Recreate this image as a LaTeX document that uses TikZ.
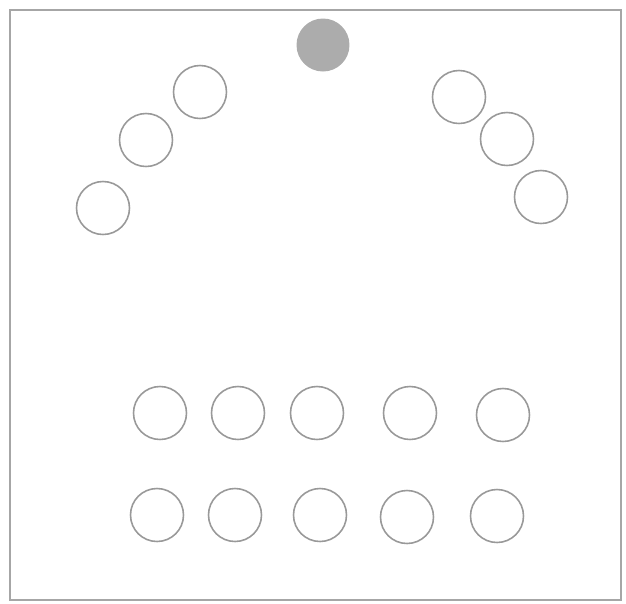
\documentclass[tikz,border=0pt]{standalone}
\begin{document}
\begin{tikzpicture}[x=0.02cm,y=-0.02cm,
    ring/.style={circle,draw=gray!80,line width=0.9pt,minimum size=1.06cm,inner sep=0pt},
    sun/.style={circle,fill=gray!65,minimum size=1.06cm,inner sep=0pt}]
      \useasboundingbox (0,0) rectangle (626,603);
      \draw[gray!70,line width=0.8pt] (10,10) rectangle (621,600);
      \node[sun] (top) at (323,45) {};
      \node[ring] (left1) at (200,92) {};
      \node[ring] (left2) at (146,140) {};
      \node[ring] (left3) at (103,208) {};
      \node[ring] (right1) at (459,97) {};
      \node[ring] (right2) at (507,139) {};
      \node[ring] (right3) at (541,197) {};
      \node[ring] (upperA) at (160,413) {};
      \node[ring] (upperB) at (238,413) {};
      \node[ring] (upperC) at (317,413) {};
      \node[ring] (upperD) at (410,413) {};
      \node[ring] (upperE) at (503,415) {};
      \node[ring] (lowerA) at (157,515) {};
      \node[ring] (lowerB) at (235,515) {};
      \node[ring] (lowerC) at (320,515) {};
      \node[ring] (lowerD) at (407,517) {};
      \node[ring] (lowerE) at (497,516) {};
    \end{tikzpicture}
\end{document}
